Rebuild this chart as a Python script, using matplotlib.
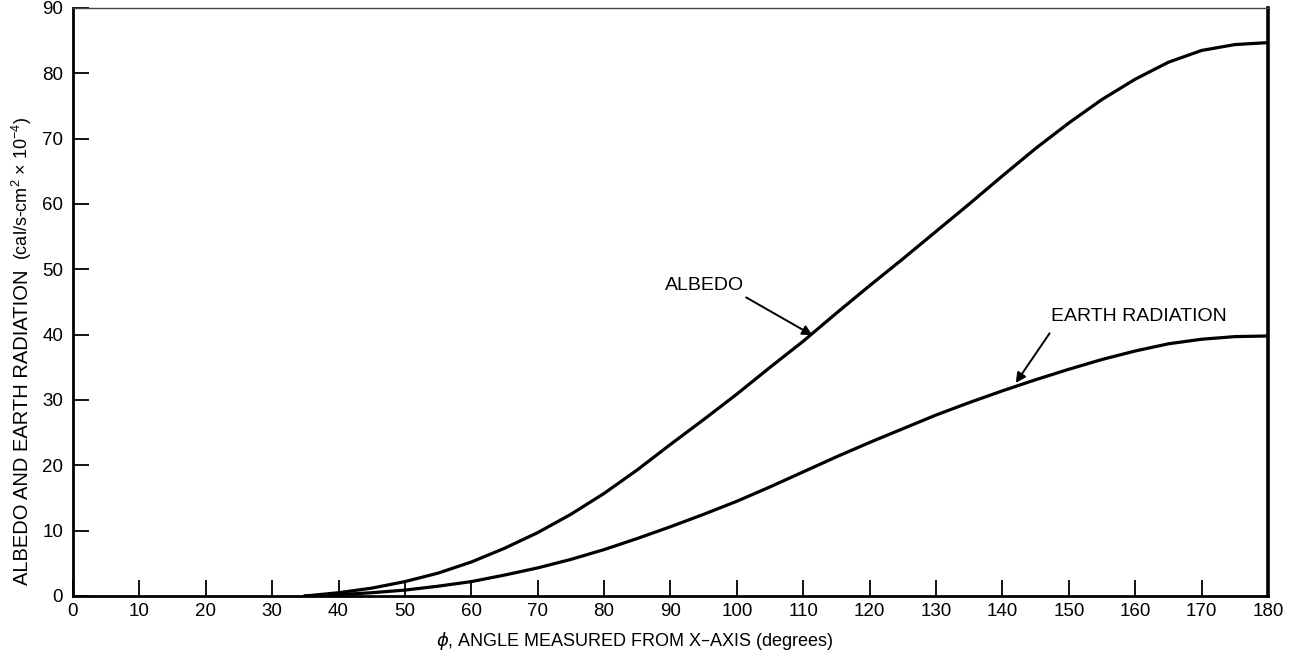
import numpy as np
from matplotlib import pyplot as plt

plt.rcParams['font.family'] = ['Liberation Sans', 'DejaVu Sans']
plt.rcParams['mathtext.default'] = 'regular'

# values
angle = [35, 40, 45, 50, 55, 60, 65, 70, 75, 80, 85, 90, 95, 100, 105, 110, 115,
         120, 125, 130, 135, 140, 145, 150, 155, 160, 165, 170, 175, 180]
albedo = [0.0, 0.5, 1.2, 2.2, 3.5, 5.2, 7.3, 9.7, 12.5, 15.7, 19.3, 23.2, 27.0, 30.9,
          35.0, 39.0, 43.3, 47.5, 51.6, 55.8, 60.0, 64.3, 68.5, 72.4, 76.0, 79.1,
          81.7, 83.5, 84.4, 84.7]
earth = [0.0, 0.2, 0.5, 0.9, 1.5, 2.2, 3.2, 4.3, 5.6, 7.1, 8.8, 10.6, 12.5, 14.5,
         16.7, 19.0, 21.3, 23.5, 25.6, 27.7, 29.6, 31.4, 33.1, 34.7, 36.2, 37.5,
         38.6, 39.3, 39.7, 39.8]

xticks = np.arange(0, 181, 10)
yticks = np.arange(0, 91, 10)

fig = plt.figure(figsize=(12.89, 6.55), dpi=100)
ax = fig.add_axes([0.0566, 0.0901, 0.9271, 0.8977])

ax.plot(angle, albedo, color='black', lw=2.3, solid_joinstyle='round')
ax.plot(angle, earth, color='black', lw=2.3, solid_joinstyle='round')

ax.set_xlim(0, 180)
ax.set_ylim(0, 90)
ax.set_xticks(xticks)
ax.set_yticks(yticks)
ax.tick_params(direction='in', length=11.5, width=1.3, color='black',
               labelsize=13.5, pad=5)
ax.tick_params(axis='y', pad=7)

for side in ['left', 'bottom']:
    ax.spines[side].set_linewidth(2.0)
ax.spines['right'].set_linewidth(2.6)
ax.spines['top'].set_linewidth(1.0)
ax.spines['top'].set_color('#444444')

# axis titles, the bracketed unit part is set smaller on the y axis
fig.text(0.4926, 0.022, '$\\it{\\phi}$, ANGLE MEASURED FROM X\u2013AXIS (degrees)',
         fontsize=13, ha='center', va='center')
fig.text(0.0171, 0.107, 'ALBEDO AND EARTH RADIATION', fontsize=14.5,
         rotation=90, ha='center', va='bottom')
fig.text(0.0171, 0.603, '(cal/s-cm$^2$ \u00d7 10$^{-4}$)', fontsize=13,
         rotation=90, ha='center', va='bottom')

# curve labels with their pointer arrows
ax.text(95.2, 47.6, 'ALBEDO', fontsize=14, ha='center', va='center')
ax.annotate('', xy=(111.4, 39.9), xytext=(101.4, 45.7),
            arrowprops=dict(arrowstyle='-|>', color='black', lw=1.4,
                            mutation_scale=15, shrinkA=0, shrinkB=0))
ax.text(160.6, 42.8, 'EARTH RADIATION', fontsize=14, ha='center', va='center')
ax.annotate('', xy=(142.0, 32.6), xytext=(147.1, 40.2),
            arrowprops=dict(arrowstyle='-|>', color='black', lw=1.4,
                            mutation_scale=15, shrinkA=0, shrinkB=0))

fig.savefig('out.png', dpi=100, facecolor='white')
